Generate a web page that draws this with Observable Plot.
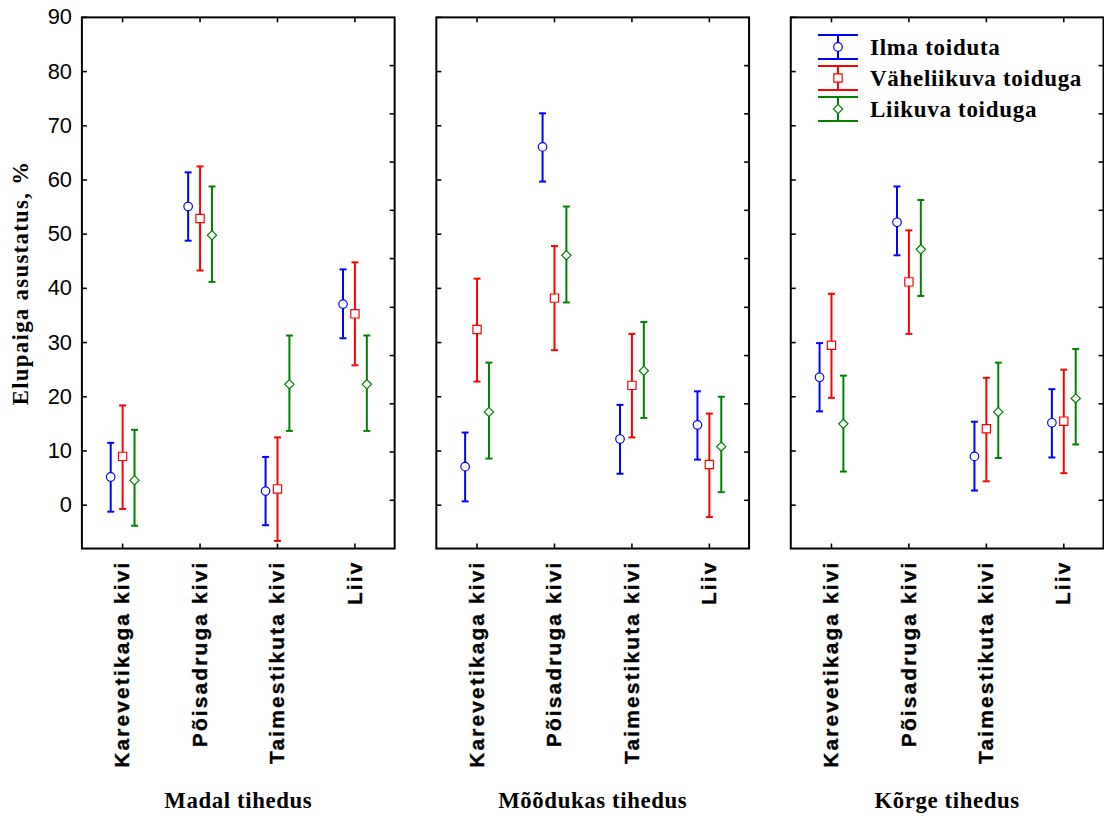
<!DOCTYPE html>
<html>
<head>
<meta charset="utf-8">
<script src="https://cdn.jsdelivr.net/npm/d3@7"></script>
<script src="https://cdn.jsdelivr.net/npm/@observablehq/plot@0.6"></script>
<style>
  html, body { margin: 0; padding: 0; background: #fff; overflow: hidden; }
  #wrap { position: relative; width: 1104px; height: 825px; overflow: hidden; }
  #wrap svg.plot { position: absolute; left: 0; top: 0; }
  g[aria-label="x-axis tick label"] text { font-family: "Liberation Sans", Arial, sans-serif; font-weight: bold; font-size: 21px; letter-spacing: 2.2px; stroke: black; stroke-width: 0.35px; }
  g[aria-label="y-axis tick label"] text { font-family: "Liberation Sans", Arial, sans-serif; font-size: 22px; }
  g[aria-label="fx-axis tick label"] text { font-family: "Liberation Serif", "Times New Roman", serif; font-weight: bold; font-size: 23px; letter-spacing: 0.6px; }
  g[aria-label="y-axis label"] text { font-family: "Liberation Serif", "Times New Roman", serif; font-weight: bold; font-size: 23px; letter-spacing: 1.3px; }
  #legend { position: absolute; left: 810px; top: 28px; }
  #legend text { font-family: "Liberation Serif", "Times New Roman", serif; font-weight: bold; font-size: 23px; letter-spacing: 0.7px; }
</style>
</head>
<body>
<div id="wrap"></div>
<script>
// ---- data ----
const densities = ["Madal tihedus", "Mõõdukas tihedus", "Kõrge tihedus"];
const habitats = ["Karevetikaga kivi", "Põisadruga kivi", "Taimestikuta kivi", "Liiv"];
const seriesNames = ["Ilma toiduta", "Väheliikuva toiduga", "Liikuva toiduga"];
const seriesColors = ["#0000ff", "#ff0000", "#008000"];
const yTicks = [0, 10, 20, 30, 40, 50, 60, 70, 80, 90];
const yTicksRight = [0.9, 9.8, 18.7, 27.6, 36.5, 45.5, 54.4, 63.3, 72.2, 81.1];

// order: density (Madal, Mõõdukas, Kõrge) x habitat (Karevetikaga, Põisadruga, Taimestikuta, Liiv)
const meanIlma = [5.2, 55.1, 2.6, 37.1,   7.1, 66.1, 12.2, 14.8,   23.6, 52.2, 9.0, 15.2];
const lowIlma  = [-1.2, 48.8, -3.7, 30.8, 0.7, 59.7, 5.8, 8.4,     17.3, 46.1, 2.7, 8.8];
const highIlma = [11.5, 61.4, 8.9, 43.5,  13.4, 72.3, 18.5, 21.0,  29.9, 58.8, 15.4, 21.4];

const meanVahe = [9.0, 52.9, 3.0, 35.3,   32.4, 38.2, 22.1, 7.5,   29.5, 41.2, 14.1, 15.5];
const lowVahe  = [-0.7, 43.3, -6.6, 25.8, 22.8, 28.6, 12.5, -2.2,  19.8, 31.6, 4.4, 5.9];
const highVahe = [18.4, 62.5, 12.5, 44.8, 41.8, 47.8, 31.6, 16.9,  39.0, 50.7, 23.5, 25.0];

const meanLiik = [4.6, 49.8, 22.3, 22.3,  17.2, 46.1, 24.8, 10.8,  15.0, 47.2, 17.2, 19.7];
const lowLiik  = [-3.8, 41.2, 13.7, 13.7, 8.6, 37.4, 16.1, 2.4,    6.2, 38.6, 8.7, 11.2];
const highLiik = [13.9, 58.8, 31.3, 31.3, 26.3, 55.1, 33.8, 20.0,  23.9, 56.3, 26.3, 28.8];

const seriesMeans = [meanIlma, meanVahe, meanLiik];
const seriesLows = [lowIlma, lowVahe, lowLiik];
const seriesHighs = [highIlma, highVahe, highLiik];
const seriesSymbols = ["circle", "square", "diamond2"];
const seriesR = [4.3, 4.7, 4.2];
const seriesDx = [-12, 0, 12];

// ---- build rows ----
function rowsFor(si) {
  const out = [];
  densities.forEach((d, di) => habitats.forEach((h, hi) => {
    const k = di * habitats.length + hi;
    out.push({density: d, habitat: h, mean: seriesMeans[si][k], lo: seriesLows[si][k], hi: seriesHighs[si][k]});
  }));
  return out;
}

// custom tick / cap symbols
const tickLeft = {draw(c) { c.moveTo(0, 0); c.lineTo(5, 0); }};
const tickRight = {draw(c) { c.moveTo(0, 0); c.lineTo(-5, 0); }};
const tickDown = {draw(c) { c.moveTo(0, 0); c.lineTo(0, 5); }};
const tickUp = {draw(c) { c.moveTo(0, 0); c.lineTo(0, -5); }};
const cap = {draw(c) { c.moveTo(-3.5, 0); c.lineTo(3.5, 0); }};

const marks = [
  Plot.frame({stroke: "black", strokeWidth: 2}),
  Plot.dot(yTicks, {y: d => d, frameAnchor: "left", symbol: tickLeft, stroke: "black", strokeWidth: 1.6, fill: "none"}),
  Plot.dot(yTicksRight, {y: d => d, frameAnchor: "right", symbol: tickRight, stroke: "black", strokeWidth: 1.6, fill: "none"}),
  Plot.dot(habitats, {x: d => d, frameAnchor: "top", symbol: tickDown, stroke: "black", strokeWidth: 1.6, fill: "none"}),
  Plot.dot(habitats, {x: d => d, frameAnchor: "bottom", symbol: tickUp, stroke: "black", strokeWidth: 1.6, fill: "none"}),
  Plot.axisY({ticks: yTicks, tickSize: 0, tickPadding: 10, label: null}),
  Plot.axisY({ticks: [], label: "Elupaiga asustatus, %", labelAnchor: "center", labelArrow: "none", labelOffset: 71}),
  Plot.axisX({anchor: "bottom", tickSize: 0, tickPadding: 12, tickRotate: -90, label: null}),
  Plot.axisFx({anchor: "bottom", tickSize: 0, tickPadding: 245, label: null})
];

seriesNames.forEach((name, si) => {
  const rows = rowsFor(si);
  const col = seriesColors[si];
  const dx = seriesDx[si];
  marks.push(
    Plot.ruleX(rows, {fx: "density", x: "habitat", y1: "lo", y2: "hi", stroke: col, strokeWidth: 2, dx}),
    Plot.dot(rows, {fx: "density", x: "habitat", y: "hi", symbol: cap, stroke: col, strokeWidth: 2, fill: "none", dx}),
    Plot.dot(rows, {fx: "density", x: "habitat", y: "lo", symbol: cap, stroke: col, strokeWidth: 2, fill: "none", dx}),
    Plot.dot(rows, {fx: "density", x: "habitat", y: "mean", symbol: seriesSymbols[si], r: seriesR[si], fill: "white", stroke: col, strokeWidth: 1.2, dx})
  );
});

const chart = Plot.plot({
  width: 1112,
  height: 825,
  marginLeft: 82,
  marginRight: 1,
  marginTop: 17,
  marginBottom: 273,
  fx: {domain: densities, paddingInner: 0.118, paddingOuter: 0},
  x: {type: "point", domain: habitats, padding: 0.5},
  y: {domain: [-8, 90]},
  style: {background: "white", color: "black", overflow: "visible"},
  marks
});
chart.classList.add("plot");
document.getElementById("wrap").appendChild(chart);

// ---- legend ----
const lg = d3.select("#wrap").append("svg").attr("id", "legend").attr("width", 294).attr("height", 100);
const rowH = 31;
seriesNames.forEach((name, i) => {
  const g = lg.append("g").attr("transform", `translate(0, ${i * rowH})`);
  const col = seriesColors[i];
  g.append("line").attr("x1", 8).attr("x2", 48).attr("y1", 7).attr("y2", 7).attr("stroke", col).attr("stroke-width", 2.2);
  g.append("line").attr("x1", 8).attr("x2", 48).attr("y1", 31).attr("y2", 31).attr("stroke", col).attr("stroke-width", 2.2);
  g.append("line").attr("x1", 28).attr("x2", 28).attr("y1", 7).attr("y2", 31).attr("stroke", col).attr("stroke-width", 2);
  const sym = d3.symbol().type([d3.symbolCircle, d3.symbolSquare, d3.symbolDiamond2][i]).size(Math.PI * seriesR[i] * seriesR[i]);
  g.append("path").attr("d", sym()).attr("transform", "translate(28,19)").attr("fill", "white").attr("stroke", col).attr("stroke-width", 1.2);
  g.append("text").attr("x", 60).attr("y", 19).attr("dy", "0.35em").attr("fill", "black").text(name);
});
</script>
</body>
</html>
